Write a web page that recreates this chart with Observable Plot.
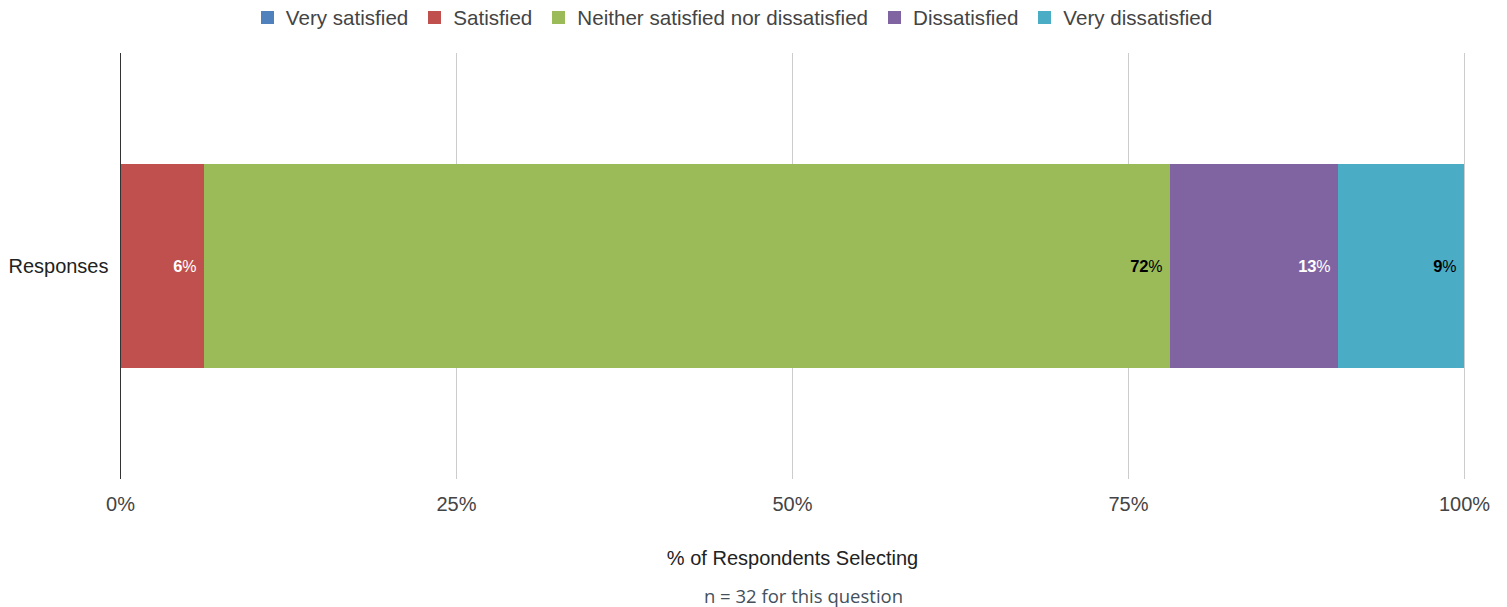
<!DOCTYPE html>
<html>
<head>
<meta charset="utf-8">
<script src="https://cdn.jsdelivr.net/npm/d3@7"></script>
<script src="https://cdn.jsdelivr.net/npm/@observablehq/plot@0.6"></script>
<style>
  html, body { margin: 0; padding: 0; background: #fff; }
  body { width: 1507px; height: 607px; overflow: hidden; font-family: "Liberation Sans", Arial, sans-serif; }
  #legend { height: 35px; display: flex; justify-content: center; align-items: center; padding-right: 34px; box-sizing: border-box; font-size: 20.6px; color: #444; }
  #legend .item { display: flex; align-items: center; margin-right: 20px; }
  #legend .item:last-child { margin-right: 0; }
  #legend .sw { width: 13px; height: 13px; margin-right: 12px; }
  #chart svg { display: block; }
  #caption { text-align: center; font-family: "Open Sans", sans-serif; font-size: 18.5px; color: #44505c; padding-left: 100px; margin-top: 4px; line-height: 24px; }
</style>
</head>
<body>
<div id="legend"></div>
<div id="chart"></div>
<div id="caption"></div>
<script>
const categories = ["Very satisfied", "Satisfied", "Neither satisfied nor dissatisfied", "Dissatisfied", "Very dissatisfied"];
const values = [0, 6.25, 71.875, 12.5, 9.375];
const colors = ["#4f81bd", "#c0504d", "#9bbb59", "#8064a2", "#4bacc6"];
const labelColors = ["#ffffff", "#ffffff", "#000000", "#ffffff", "#000000"];
const rowLabel = "Responses";
const xTicks = [0, 25, 50, 75, 100];
const xTitle = "% of Respondents Selecting";
const caption = "n = 32 for this question";

const data = categories.map((c, i) => ({category: c, value: values[i], row: rowLabel, labelColor: labelColors[i]}));
const labelled = data.filter(d => d.value > 0);

// legend
const legend = document.getElementById("legend");
categories.forEach((c, i) => {
  const it = document.createElement("div");
  it.className = "item";
  it.innerHTML = `<div class="sw" style="background:${colors[i]}"></div><span>${c}</span>`;
  legend.appendChild(it);
});

const pctShift = 14;
const chart = Plot.plot({
  width: 1507,
  height: 545,
  marginLeft: 120,
  marginRight: 43,
  marginTop: 18,
  marginBottom: 101,
  style: {fontFamily: "'Liberation Sans', Arial, sans-serif", fontSize: "20px", color: "#444", background: "#fff"},
  x: {domain: [0, 100]},
  y: {domain: [rowLabel], padding: 0.351, label: null},
  color: {domain: categories, range: colors},
  marks: [
    Plot.ruleX(xTicks.slice(1), {stroke: "#cccccc", strokeWidth: 1}),
    Plot.barX(data, Plot.stackX({x: "value", y: "row", fill: "category"})),
    Plot.ruleX([0], {stroke: "#333333", strokeWidth: 1}),
    Plot.text(labelled, Plot.stackX2({x: "value", y: "row", text: () => "%", fill: "labelColor", textAnchor: "end", dx: -8, fontSize: 16})),
    Plot.text(labelled, Plot.stackX2({x: "value", y: "row", text: d => String(Math.round(d.value)), fill: "labelColor", textAnchor: "end", dx: -8 - pctShift, fontSize: 16.5, fontWeight: "bold"})),
    Plot.axisX({ticks: xTicks, tickFormat: d => d + "%", tickSize: 0, tickPadding: 17, label: null, fill: "#444"}),
    Plot.axisY({tickSize: 0, tickPadding: 12, label: null, fill: "#222"}),
    Plot.text([xTitle], {frameAnchor: "bottom", dy: 85, fill: "#222", fontSize: 20})
  ]
});
document.getElementById("chart").appendChild(chart);
document.getElementById("caption").textContent = caption;
</script>
</body>
</html>
